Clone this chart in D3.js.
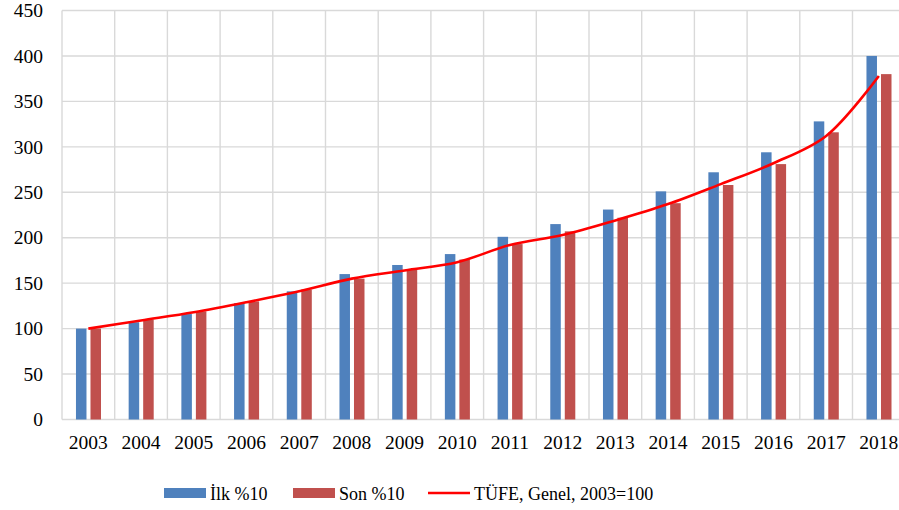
<!DOCTYPE html>
<html>
<head>
<meta charset="utf-8">
<script src="https://cdn.jsdelivr.net/npm/d3@7"></script>
<style>
  body { margin: 0; background: #fff; }
  svg { display: block; font-family: "Liberation Serif", "Times New Roman", serif; }
  .axis text { font-family: "Liberation Serif", "Times New Roman", serif; font-size: 19.5px; fill: #000; }
  .legend text { font-size: 18px; fill: #000; }
</style>
</head>
<body>
<svg id="chart" width="899" height="510"></svg>
<script>
var years = ["2003","2004","2005","2006","2007","2008","2009","2010","2011","2012","2013","2014","2015","2016","2017","2018"];
var ilk = [100, 107, 116, 128, 141, 160, 170, 182, 201, 215, 231, 251, 272, 294, 328, 400];
var son = [100, 110, 119, 130, 143, 155, 165, 176, 193, 207, 222, 238, 258, 281, 316, 380];
var tufe = [100, 109, 118, 129, 141, 155, 164, 173, 192, 203, 219, 237, 259, 282, 312, 378];
var yTicks = [0, 50, 100, 150, 200, 250, 300, 350, 400, 450];
var seriesNames = ["İlk %10", "Son %10", "TÜFE, Genel, 2003=100"];

var svg = d3.select("#chart"),
    margin = {top: 10.5, left: 62, bottom: 419.5},
    plotRight = 62 + 16 * 52.7;

var x = d3.scaleBand().domain(years).range([margin.left, plotRight]).padding(0);
var y = d3.scaleLinear().domain([0, 450]).range([margin.bottom, margin.top]);
var x1 = d3.scaleBand().domain([0, 1])
    .range([x.bandwidth() * 0.265, x.bandwidth() * 0.74])
    .paddingInner(0.276);

var colors = ["#4F81BD", "#C0504D", "#FF0000"];

// grid
svg.append("g")
    .selectAll("line")
    .data(yTicks)
    .enter().append("line")
      .attr("x1", margin.left).attr("x2", plotRight)
      .attr("y1", function(d) { return y(d); })
      .attr("y2", function(d) { return y(d); })
      .attr("stroke", "#D9D9D9").attr("stroke-width", 1.4);

svg.append("g")
    .selectAll("line")
    .data(years.concat(["end"]))
    .enter().append("line")
      .attr("x1", function(d, i) { return margin.left + i * x.step(); })
      .attr("x2", function(d, i) { return margin.left + i * x.step(); })
      .attr("y1", margin.top).attr("y2", margin.bottom)
      .attr("stroke", "#D9D9D9").attr("stroke-width", 1.4);

// axes
var yAxis = svg.append("g")
    .attr("class", "axis")
    .attr("transform", "translate(" + (margin.left - 19) + ",0)")
    .call(d3.axisLeft(y).tickValues(yTicks).tickSize(0).tickPadding(0));
yAxis.select(".domain").remove();

var xAxis = svg.append("g")
    .attr("class", "axis")
    .attr("transform", "translate(0," + margin.bottom + ")")
    .call(d3.axisBottom(x).tickSize(0).tickPadding(16));
xAxis.select(".domain").remove();

// bars
[ilk, son].forEach(function(vals, s) {
  svg.append("g")
    .selectAll("rect")
    .data(vals)
    .enter().append("rect")
      .attr("x", function(d, i) { return x(years[i]) + x1(s); })
      .attr("y", function(d) { return y(d); })
      .attr("width", x1.bandwidth())
      .attr("height", function(d) { return y(0) - y(d); })
      .attr("fill", colors[s]);
});

// line
var line = d3.line()
    .x(function(d, i) { return x(years[i]) + x.bandwidth() / 2; })
    .y(function(d) { return y(d); })
    .curve(d3.curveCatmullRom.alpha(0.5));

svg.append("path")
    .datum(tufe)
    .attr("d", line)
    .attr("fill", "none")
    .attr("stroke", colors[2])
    .attr("stroke-width", 2.6);

// legend
var legend = svg.append("g").attr("class", "legend");
var legX = [164, 293, 428];
seriesNames.forEach(function(name, i) {
  var g = legend.append("g").attr("transform", "translate(" + legX[i] + ",0)");
  if (i < 2) {
    g.append("rect").attr("x", 0).attr("y", 488).attr("width", 42).attr("height", 10).attr("fill", colors[i]);
  } else {
    g.append("line").attr("x1", 0).attr("x2", 42).attr("y1", 493).attr("y2", 493)
      .attr("stroke", colors[i]).attr("stroke-width", 2.6);
  }
  g.append("text").attr("x", 46).attr("y", 500).text(name);
});
</script>
</body>
</html>
